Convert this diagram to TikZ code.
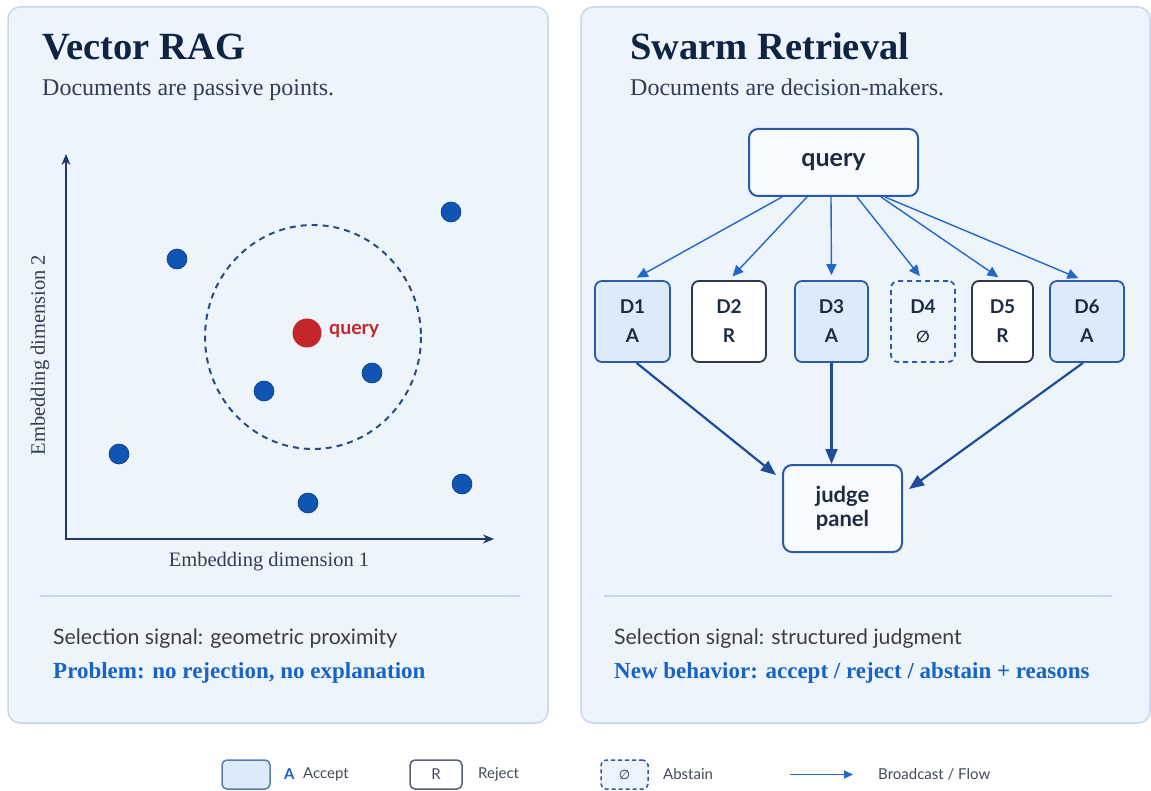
\documentclass[tikz,border=0pt]{standalone}
\usepackage{fontspec}
\setmainfont{Liberation Serif}
\setsansfont{Lato}
\newfontfamily\symfont{DejaVu Sans}
\usetikzlibrary{arrows.meta,calc}

\definecolor{panelfill}{HTML}{EEF4FC}
\definecolor{panelline}{HTML}{C6D6EC}
\definecolor{titlec}{HTML}{0F2342}
\definecolor{subc}{HTML}{2F3D55}
\definecolor{axisc}{HTML}{1F3866}
\definecolor{ringc}{HTML}{2A4A80}
\definecolor{dotblue}{HTML}{0F55B4}
\definecolor{qred}{HTML}{C3262B}
\definecolor{acceptfill}{HTML}{DCEAFA}
\definecolor{boxline}{HTML}{2A5BA6}
\definecolor{rejectline}{HTML}{2B3850}
\definecolor{flowblue}{HTML}{2368C9}
\definecolor{judgec}{HTML}{1D4C98}
\definecolor{bluetext}{HTML}{1763C6}
\definecolor{graytext}{HTML}{3D3D3D}
\definecolor{boxtext}{HTML}{1C2A44}
\definecolor{legtext}{HTML}{444A55}

\tikzset{
  panel/.style={draw=panelline, line width=1.5pt, fill=panelfill, rounded corners=12pt},
  sep/.style={draw=panelline, line width=2pt},
  title/.style={anchor=base west, font=\fontsize{38.5}{44}\selectfont\bfseries, text=titlec, inner sep=0},
  subtitle/.style={anchor=base west, font=\fontsize{24}{28}\selectfont, text=subc, inner sep=0},
  signal/.style={anchor=base west, font=\sffamily\fontsize{21.3}{25}\selectfont, text=graytext, inner sep=0},
  verdict/.style={anchor=base west, font=\fontsize{23}{27}\selectfont\bfseries, text=bluetext, inner sep=0},
  axis/.style={draw=axisc, line width=2pt, -{Stealth[length=11pt,width=9pt]}},
  axlabel/.style={font=\fontsize{20.5}{24}\selectfont, text=subc, inner sep=0},
  docdot/.style={circle, fill=dotblue, draw=dotblue!70!black, line width=0.6pt, minimum size=20pt, inner sep=0},
  qdot/.style={circle, fill=qred, minimum size=29pt, inner sep=0},
  docbox/.style={rounded corners=7pt, line width=1.8pt, minimum height=81pt, inner sep=0, align=center,
    font=\sffamily\bfseries\fontsize{19}{29}\selectfont, text=boxtext},
  acceptbox/.style={docbox, draw=boxline, fill=acceptfill},
  rejectbox/.style={docbox, draw=rejectline, fill=white},
  abstainbox/.style={docbox, draw=boxline, dashed, dash pattern=on 5pt off 4pt},
  hubbox/.style={draw=boxline, line width=2pt, rounded corners=9pt, fill=white!60!panelfill, align=center,
    font=\sffamily\bfseries\fontsize{25}{29}\selectfont, text=boxtext, inner sep=0},
  bcast/.style={draw=flowblue, line width=1.4pt, -{Triangle[length=11pt,width=10pt]}},
  toj/.style={draw=judgec, line width=2.2pt, -{Triangle[length=15pt,width=12pt]}},
  legtxt/.style={anchor=west, font=\sffamily\fontsize{15}{18}\selectfont, text=legtext, inner sep=0},
}

\begin{document}
\begin{tikzpicture}[x=1pt,y=-1pt]
\useasboundingbox (0,0) rectangle (1151,791);
\fill[white] (0,0) rectangle (1151,791);

% ---- left panel: vector retrieval ----
\draw[panel] (8,7) rectangle (548,723);
\node[title] (ltitle) at (42,60) {Vector RAG};
\node[subtitle] (lsub) at (42,96) {Documents are passive points.};

\coordinate (origin) at (66,539);
\coordinate (xend) at (494,539);
\coordinate (yend) at (66,154);
\draw[axis] (origin) -- (xend);
\draw[axis] ($(origin)+(0,1)$) -- (yend);
\node[axlabel] (xlab) at (269,562) {Embedding dimension 1};
\node[axlabel, rotate=90] (ylab) at (40,355) {Embedding dimension 2};

\draw[draw=ringc, line width=2pt, dash pattern=on 6pt off 5pt] (313,337) ellipse [x radius=108, y radius=112];

\node[docdot] (p1) at (177,259) {};
\node[docdot] (p2) at (451,212) {};
\node[docdot] (p3) at (264,391) {};
\node[docdot] (p4) at (372,373) {};
\node[docdot] (p5) at (119,454) {};
\node[docdot] (p6) at (308,503) {};
\node[docdot] (p7) at (462,484) {};
\node[qdot] (qpt) at (307,333) {};
\node[anchor=west, font=\sffamily\bfseries\fontsize{19.5}{23}\selectfont, text=qred, inner sep=0] (qlab) at (329,331) {query};

\draw[sep] (40,596) -- (520,596);
\node[signal] (lsig) at (53,644) {Selection signal: geometric proximity};
\node[verdict] (lverd) at (53,678) {Problem: no rejection, no explanation};

% ---- right panel: swarm retrieval ----
\draw[panel] (581,7) rectangle (1150,723);
\node[title] (rtitle) at (630,60) {Swarm Retrieval};
\node[subtitle] (rsub) at (630,96) {Documents are decision-makers.};

\node[hubbox, minimum width=169pt, minimum height=67pt] (query) at (833.5,162.5) {query};

\node[acceptbox, minimum width=75pt] (d1) at (632.5,321.5) {D1\\A};
\node[rejectbox, minimum width=74pt] (d2) at (729,321.5) {D2\\R};
\node[acceptbox, minimum width=73pt] (d3) at (831.5,321.5) {D3\\A};
\node[abstainbox, minimum width=64pt] (d4) at (923,321.5) {D4\\{\symfont\fontsize{16}{29}\selectfont ∅}};
\node[rejectbox, minimum width=61pt] (d5) at (1002.5,321.5) {D5\\R};
\node[acceptbox, minimum width=74pt] (d6) at (1087,321.5) {D6\\A};

\node[hubbox, minimum width=119pt, minimum height=87pt, font=\sffamily\bfseries\fontsize{22}{24}\selectfont] (judge) at (842.5,508.5) {judge\\panel};

% broadcast from the query to every document
\draw[bcast, shorten >=5pt] ($(query.south west)+(34,0)$) -- (d1.north);
\draw[bcast, shorten >=5pt] ($(query.south west)+(59,0)$) -- (d2.north);
\draw[bcast, shorten >=5pt] ($(query.south west)+(83,0)$) -- (d3.north);
\draw[bcast, shorten >=5pt] ($(query.south west)+(109,0)$) -- (d4.north);
\draw[bcast, shorten >=5pt] ($(query.south west)+(133,0)$) -- (d5.north);
\draw[bcast, shorten >=5pt] ($(query.south west)+(137,0)$) -- ($(d6.north)+(-4,0)$);

% accepted documents report to the judge panel
\draw[toj] ($(d1.south)+(4,0)$) -- ($(judge.north west)+(-6,11)$);
\draw[toj] (d3.south) -- (d3.south |- judge.north);
\draw[toj] ($(d6.south)+(-4,0)$) -- ($(judge.north east)+(6,25)$);

\draw[sep] (604,596) -- (1112,596);
\node[signal] (rsig) at (614,644) {Selection signal: structured judgment};
\node[verdict] (rverd) at (614,678) {New behavior: accept / reject / abstain + reasons};

% ---- legend ----
\node[draw=boxline!80!white, fill=acceptfill, line width=1.5pt, rounded corners=5pt, minimum width=48pt, minimum height=29pt, inner sep=0] (lgA) at (246,774.5) {};
\node[anchor=west, font=\sffamily\bfseries\fontsize{15}{18}\selectfont, text=bluetext, inner sep=0] (lgAl) at (284,774.5) {A};
\node[legtxt] (lgAt) at (303,774.5) {Accept};

\node[draw=rejectline!80!white, fill=white, line width=1.5pt, rounded corners=5pt, minimum width=52pt, minimum height=29pt, inner sep=0, font=\sffamily\fontsize{15}{18}\selectfont, text=legtext] (lgR) at (436,774.5) {R};
\node[legtxt] (lgRt) at (478,774.5) {Reject};

\node[draw=boxline, fill=panelfill, dashed, dash pattern=on 4pt off 3pt, line width=1.5pt, rounded corners=5pt, minimum width=47pt, minimum height=29pt, inner sep=0, font=\symfont\fontsize{13}{16}\selectfont, text=boxtext] (lgD) at (624.5,774.5) {∅};
\node[legtxt] (lgDt) at (663,774.5) {Abstain};

\coordinate (lgF1) at (790,774.5);
\coordinate (lgF2) at (853,774.5);
\draw[draw=flowblue, line width=1.5pt, -{Triangle[length=9pt,width=8pt]}] (lgF1) -- (lgF2);
\node[legtxt] (lgFt) at (878,774.5) {Broadcast / Flow};
\end{tikzpicture}
\end{document}
